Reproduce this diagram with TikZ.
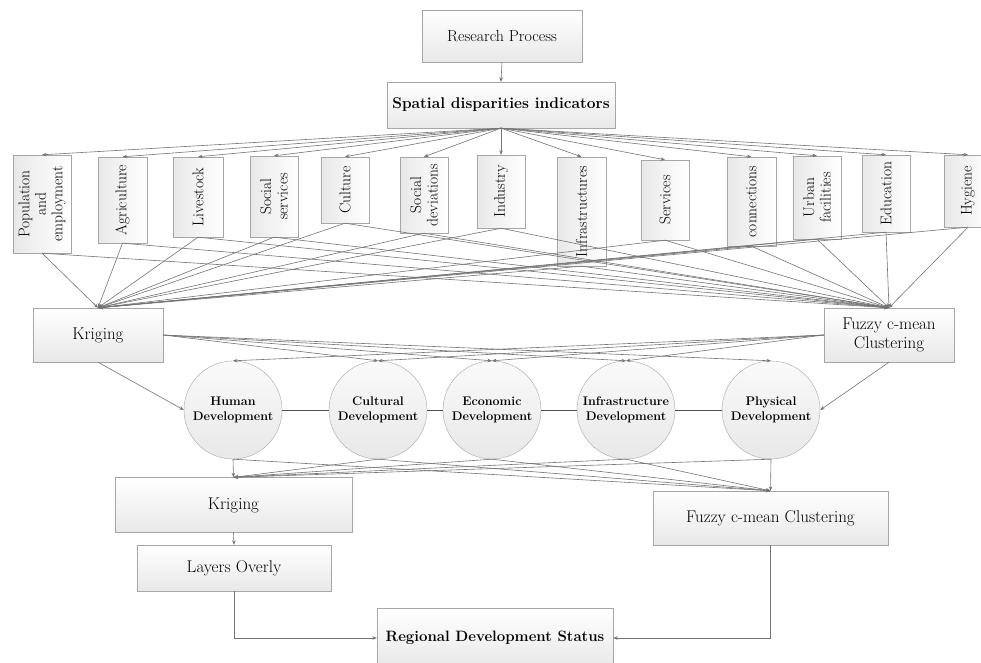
\documentclass[tikz,border=0pt]{standalone}
\usepackage{tikz}
\usetikzlibrary{positioning,arrows.meta,shapes.geometric,calc}

\tikzset{
  box/.style={draw=gray!70, top color=white, bottom color=gray!18, inner sep=2pt,
    align=center, font=\fontsize{17}{19}\selectfont},
  ibox/.style={draw=gray!70, rotate=90, left color=gray!18, right color=white,
    inner sep=1pt, align=center, font=\fontsize{15.5}{16.5}\selectfont},
  devnode/.style={circle, draw=gray!70, top color=gray!4, bottom color=gray!18,
    minimum size=98pt, inner sep=0pt, align=center,
    font=\fontsize{12.5}{15}\selectfont\bfseries},
  link/.style={draw=black!55, line width=0.6pt, -{Stealth[length=4.5pt,width=3.5pt]}},
}

\begin{document}
\begin{tikzpicture}[x=1pt, y=-1pt]
\useasboundingbox (0,0) rectangle (981,662);

% Top of the process
\node[box, minimum width=160pt, minimum height=52pt, font=\fontsize{16}{18}\selectfont] (rp) at (502,36) {Research Process};
\node[box, minimum width=228pt, minimum height=46pt, font=\fontsize{15.5}{17}\selectfont\bfseries] (sdi) at (501,105) {Spatial disparities indicators};
\draw[link] (rp.south) -- (sdi.north);

% Indicator boxes (rotated: east = top, west = bottom)
\node[ibox, minimum width=98pt, minimum height=58pt] (pop) at (42,204) {Population\\and\\employment};
\node[ibox, minimum width=86pt, minimum height=49pt] (agr) at (122.5,200) {Agriculture};
\node[ibox, minimum width=80pt, minimum height=50pt] (liv) at (198,197) {Livestock};
\node[ibox, minimum width=81pt, minimum height=48pt] (soc) at (274,196.5) {Social\\services};
\node[ibox, minimum width=66pt, minimum height=48pt] (cul) at (345,190) {Culture};
\node[ibox, minimum width=76pt, minimum height=48pt] (sdev) at (424,195) {Social\\deviations};
\node[ibox, minimum width=73pt, minimum height=48pt] (ind) at (501,191.5) {Industry};
\node[ibox, minimum width=109pt, minimum height=49pt] (inf) at (581.5,211.5) {Infrastructures};
\node[ibox, minimum width=80pt, minimum height=48pt] (ser) at (665,200) {Services};
\node[ibox, minimum width=89pt, minimum height=49pt] (con) at (751.5,201.5) {connections};
\node[ibox, minimum width=83pt, minimum height=48pt] (urb) at (817,197.5) {Urban\\facilities};
\node[ibox, minimum width=77pt, minimum height=48pt] (edu) at (886,193.5) {Education};
\node[ibox, minimum width=72pt, minimum height=48pt] (hyg) at (968,191) {Hygiene};

% First analysis
\node[box, minimum width=130pt, minimum height=54pt] (kr) at (98,335) {Kriging};
\node[box, minimum width=130pt, minimum height=54pt] (fz) at (889,335) {Fuzzy c-mean\\Clustering};

% Indicators: in from the top, out to both methods
\draw[link] (sdi.south) -- (pop.east); \draw[link] (pop.west) -- (kr.north); \draw[link] (pop.west) -- (fz.north);
\draw[link] (sdi.south) -- (agr.east); \draw[link] (agr.west) -- (kr.north); \draw[link] (agr.west) -- (fz.north);
\draw[link] (sdi.south) -- (liv.east); \draw[link] (liv.west) -- (kr.north); \draw[link] (liv.west) -- (fz.north);
\draw[link] (sdi.south) -- (soc.east); \draw[link] (soc.west) -- (kr.north); \draw[link] (soc.west) -- (fz.north);
\draw[link] (sdi.south) -- (cul.east); \draw[link] (cul.west) -- (kr.north); \draw[link] (cul.west) -- (fz.north);
\draw[link] (sdi.south) -- (sdev.east); \draw[link] (sdev.west) -- (kr.north); \draw[link] (sdev.west) -- (fz.north);
\draw[link] (sdi.south) -- (ind.east); \draw[link] (ind.west) -- (kr.north); \draw[link] (ind.west) -- (fz.north);
\draw[link] (sdi.south) -- (inf.east); \draw[link] (inf.west) -- (kr.north); \draw[link] (inf.west) -- (fz.north);
\draw[link] (sdi.south) -- (ser.east); \draw[link] (ser.west) -- (kr.north); \draw[link] (ser.west) -- (fz.north);
\draw[link] (sdi.south) -- (con.east); \draw[link] (con.west) -- (kr.north); \draw[link] (con.west) -- (fz.north);
\draw[link] (sdi.south) -- (urb.east); \draw[link] (urb.west) -- (kr.north); \draw[link] (urb.west) -- (fz.north);
\draw[link] (sdi.south) -- (edu.east); \draw[link] (edu.west) -- (kr.north); \draw[link] (edu.west) -- (fz.north);
\draw[link] (sdi.south) -- (hyg.east); \draw[link] (hyg.west) -- (kr.north); \draw[link] (hyg.west) -- (fz.north);

% Development circles
\node[devnode] (hd) at (233,410) {Human\\Development};
\node[devnode] (cd) at (378,410) {Cultural\\Development};
\node[devnode] (ed) at (492,410) {Economic\\Development};
\node[devnode] (id) at (626,410) {Infrastructure\\Development};
\node[devnode] (pd) at (771,410) {Physical\\Development};
\draw[black!70, line width=0.7pt] (hd) -- (cd) -- (ed) -- (id) -- (pd);

\draw[link] (kr.south) -- (hd.west);
\draw[link] (kr.east) -- (cd.north);
\draw[link] (kr.east) -- (ed.north);
\draw[link] (kr.east) -- (id.north);
\draw[link] (kr.east) -- (pd.north);
\draw[link] (fz.west) -- (hd.north);
\draw[link] (fz.west) -- (cd.north);
\draw[link] (fz.west) -- (ed.north);
\draw[link] (fz.west) -- (id.north);
\draw[link] (fz.south) -- (pd.east);

% Second analysis
\node[box, minimum width=237pt, minimum height=55pt] (krb) at (233.5,505) {Kriging};
\node[box, minimum width=235pt, minimum height=54pt] (fzb) at (770.5,518) {Fuzzy c-mean Clustering};
\node[box, minimum width=194pt, minimum height=46pt] (lo) at (234,568) {Layers Overly};
\node[box, minimum width=236pt, minimum height=60pt, font=\fontsize{15}{17}\selectfont\bfseries] (rds) at (495,638) {Regional Development Status};

\draw[link] (hd.south) -- (krb.north); \draw[link] (hd.south) -- (fzb.north);
\draw[link] (cd.south) -- (krb.north); \draw[link] (cd.south) -- (fzb.north);
\draw[link] (ed.south) -- (krb.north); \draw[link] (ed.south) -- (fzb.north);
\draw[link] (id.south) -- (krb.north); \draw[link] (id.south) -- (fzb.north);
\draw[link] (pd.south) -- (krb.north); \draw[link] (pd.south) -- (fzb.north);

\draw[link] (krb.south) -- (lo.north);
\draw[link] (lo.south) |- (rds.west);
\draw[link] (fzb.south) |- (rds.east);

\end{tikzpicture}
\end{document}
